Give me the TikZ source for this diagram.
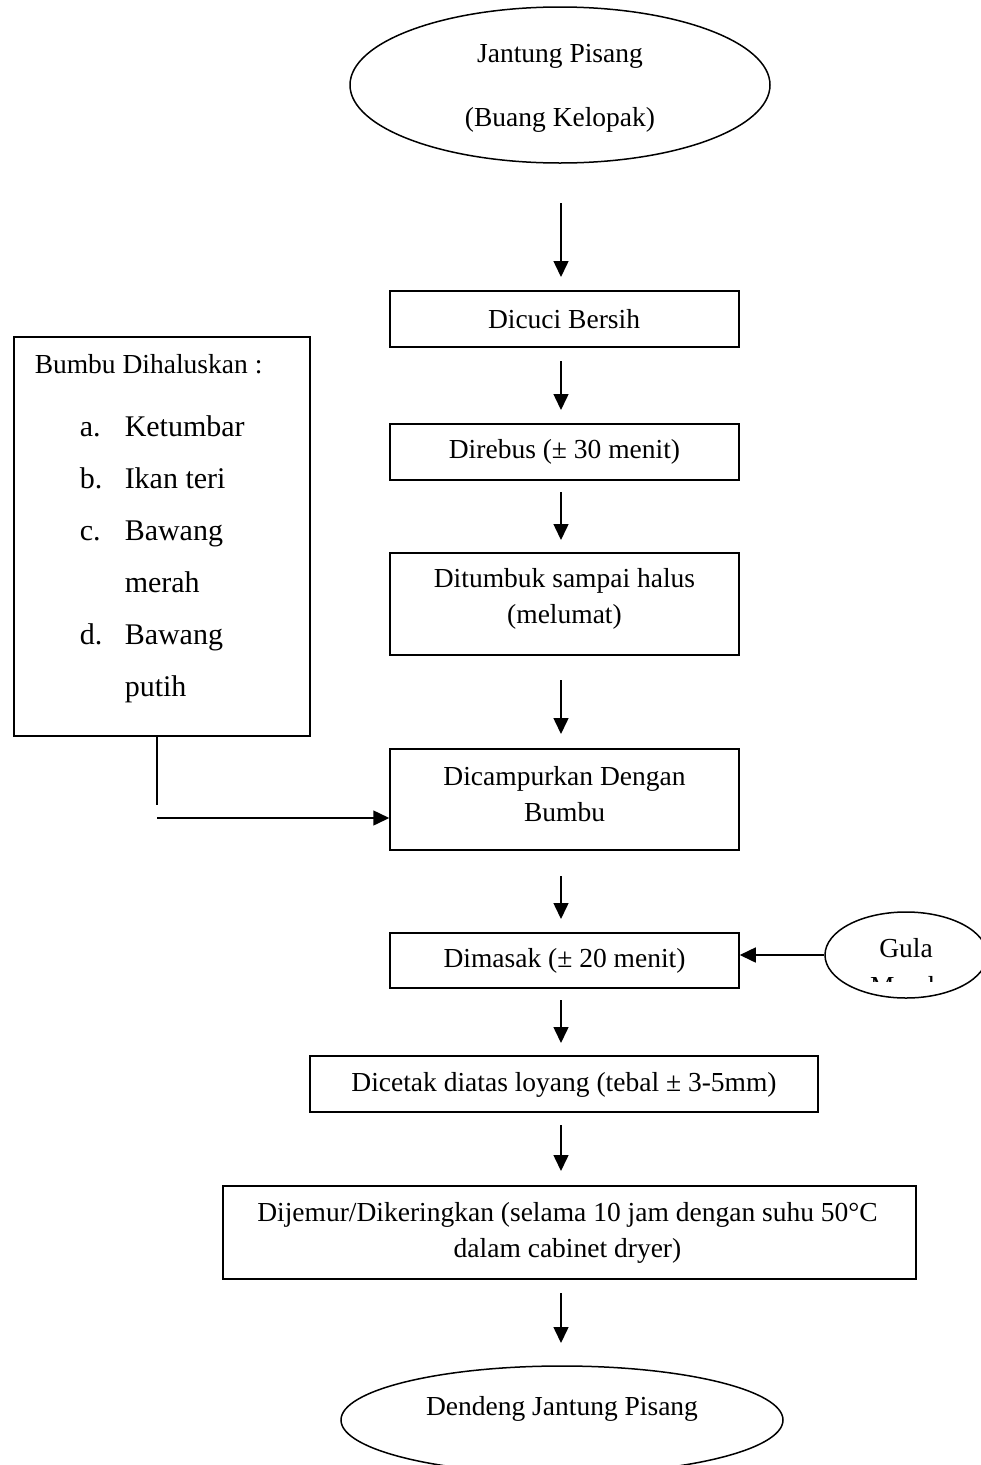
\documentclass[tikz,border=0pt]{standalone}
\usepackage{fontspec}
\setmainfont{Liberation Serif}
\usetikzlibrary{shapes.geometric,arrows.meta}
\begin{document}
\begin{tikzpicture}[x=1pt,y=-1pt, line width=1.5pt,
  every node/.style={font=\fontsize{27.5}{36.5}\selectfont},
  box/.style={draw, rectangle, inner sep=0pt},
  oval/.style={draw, ellipse, inner sep=0pt},
  txt/.style={inner sep=0pt, align=center},
  big/.style={font=\fontsize{30}{36}\selectfont},
  flow/.style={-{Triangle[length=16pt,width=15pt]}},
  plain/.style={inner sep=0pt, anchor=base west}]
\useasboundingbox (0,0) rectangle (981,1465);

% top ellipse
\node[oval, minimum width=420, minimum height=156] (start) at (560,85) {};
\node[txt] (starttxt) at (560,88) {Jantung Pisang\\[27.5pt](Buang Kelopak)};

% process boxes
\node[box, minimum width=349, minimum height=56] (cuci) at (564.5,319) {};
\node[txt] (cucitxt) at (564,319) {Dicuci Bersih};
\node[box, minimum width=349, minimum height=56] (rebus) at (564.5,452) {};
\node[txt] (rebustxt) at (564.5,452) {Direbus (± 30 menit)};
\node[box, minimum width=349, minimum height=102] (tumbuk) at (564.5,604) {};
\node[txt] (tumbuktxt) at (564.5,599) {Ditumbuk sampai halus\\(melumat)};
\node[box, minimum width=349, minimum height=101] (campur) at (564.5,799.5) {};
\node[txt] (campurtxt) at (564.5,794) {Dicampurkan Dengan\\Bumbu};
\node[box, minimum width=349, minimum height=55] (masak) at (564.5,960.5) {};
\node[txt] (masaktxt) at (564.5,961) {Dimasak (± 20 menit)};
\node[box, minimum width=508, minimum height=56] (cetak) at (564,1084) {};
\node[txt] (cetaktxt) at (564,1085) {Dicetak diatas loyang (tebal ± 3-5mm)};
\node[box, minimum width=693, minimum height=93] (jemur) at (569.5,1232.5) {};
\node[txt] (jemurtxt) at (567.5,1233) {Dijemur/Dikeringkan (selama 10 jam dengan suhu 50°C\\dalam cabinet dryer)};

% end ellipse
\node[oval, minimum width=442, minimum height=108] (end) at (562,1420) {};
\node[txt] (endtxt) at (562,1409) {Dendeng Jantung Pisang};

% gula merah ellipse
\node[oval, minimum width=162, minimum height=86] (gula) at (906,955) {};
\node[plain, anchor=base] (gulatxt) at (906,957) {Gula};
\begin{scope}
  \clip (820,960) rectangle (990,981);
  \node[plain, anchor=base] (merahtxt) at (906,995) {Merah};
\end{scope}

% left ingredients box
\node[box, minimum width=296, minimum height=399] (bumbu) at (162,536.5) {};
\node[plain] (bh) at (34,373) {Bumbu Dihaluskan :};
\node[plain, big] (la) at (79,436) {a.};
\node[plain, big] (ia) at (124,436) {Ketumbar};
\node[plain, big] (lb) at (79,488) {b.};
\node[plain, big] (ib) at (124,488) {Ikan teri};
\node[plain, big] (lc) at (79,540) {c.};
\node[plain, big] (ic) at (124,540) {Bawang};
\node[plain, big] (ic2) at (124,592) {merah};
\node[plain, big] (ld) at (79,644) {d.};
\node[plain, big] (id) at (124,644) {Bawang};
\node[plain, big] (id2) at (124,696) {putih};

% arrow coordinates
\coordinate (a1s) at (561,203); \coordinate (a1e) at (561,277);
\coordinate (a2s) at (561,361); \coordinate (a2e) at (561,410);
\coordinate (a3s) at (561,492); \coordinate (a3e) at (561,540);
\coordinate (a4s) at (561,680); \coordinate (a4e) at (561,734);
\coordinate (a5s) at (561,876); \coordinate (a5e) at (561,919);
\coordinate (a6s) at (561,1000); \coordinate (a6e) at (561,1043);
\coordinate (a7s) at (561,1125); \coordinate (a7e) at (561,1171);
\coordinate (a8s) at (561,1293); \coordinate (a8e) at (561,1343);
\coordinate (bv) at (157,805);
\coordinate (bh1) at (157,818);

\draw[flow] (a1s) -- (a1e);
\draw[flow] (a2s) -- (a2e);
\draw[flow] (a3s) -- (a3e);
\draw[flow] (a4s) -- (a4e);
\draw[flow] (a5s) -- (a5e);
\draw[flow] (a6s) -- (a6e);
\draw[flow] (a7s) -- (a7e);
\draw[flow] (a8s) -- (a8e);

\draw (bumbu.south -| bv) -- (bv);
\draw[flow] (bh1) -- (bh1 -| campur.west);
\draw[flow] (gula.west) -- (gula.west -| masak.east);
\end{tikzpicture}
\end{document}
